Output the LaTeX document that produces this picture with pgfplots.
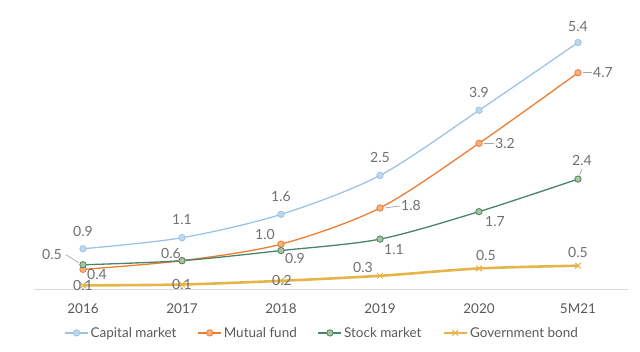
\documentclass[border=0pt]{standalone}
\usepackage{pgfplots}
\usepackage{pgfplotstable}
\pgfplotsset{compat=1.18}
\usepackage{fontspec}
\setmainfont{Lato}
\definecolor{capc}{HTML}{9DC3E6}
\definecolor{capf}{HTML}{BDD7EE}
\definecolor{mfc}{HTML}{ED7D31}
\definecolor{mff}{HTML}{F4B183}
\definecolor{smc}{HTML}{4A8469}
\definecolor{smf}{HTML}{A9C4A2}
\definecolor{gbc}{HTML}{E4B548}
\definecolor{tickc}{HTML}{595959}
\definecolor{labc}{HTML}{707070}
\definecolor{axc}{HTML}{D9D9D9}

\pgfplotstableread{
x y dx dy lbl
0 0.90 0 17 0.9
1 1.14 0 18 1.1
2 1.65 0 18 1.6
3 2.50 0 18 2.5
4 3.92 0 18 3.9
5 5.40 0 16 5.4
}\capital
\pgfplotstableread{
x y dx dy lbl
0 0.45 14 -5 0.4
1 0.64 -11 7 {}
2 1.00 -16 10 1.0
3 1.79 31 2 1.8
4 3.20 26 0 3.2
5 4.74 25 0 4.7
}\mutual
\pgfplotstableread{
x y dx dy lbl
0 0.55 -31 10 0.5
1 0.64 -11 7 0.6
2 0.86 14 -8 0.9
3 1.11 14 -10 1.1
4 1.71 16 -10 1.7
5 2.42 4 19 2.4
}\stock
\pgfplotstableread{
x y dx dy lbl
0 0.10 0 0 0.1
1 0.12 0 0 0.1
2 0.20 1 0 0.2
3 0.31 -17 8 0.3
4 0.47 7 13 0.5
5 0.53 0 13 0.5
}\bond

\begin{document}
\begin{tikzpicture}
\path[use as bounding box] (0,0) rectangle (640pt,352pt);
\begin{axis}[
  at={(33.5pt,62pt)}, anchor=south west,
  scale only axis, width=594pt, height=275pt,
  xmin=-0.5, xmax=5.5, ymin=0, ymax=6,
  clip=false,
  axis x line=bottom, axis y line=none,
  x axis line style={draw=axc, line width=1pt, -},
  xtick={0,1,2,3,4,5},
  xticklabels={2016,2017,2018,2019,2020,5M21},
  major tick length=0pt,
  xticklabel style={anchor=center, yshift=-19pt, text=tickc, font=\fontsize{13.5}{16}\selectfont},
  ytick=\empty,
  ylabel={MILLIONS},
  ylabel style={at={(axis description cs:-0.0143,0.473)}, anchor=center, text=tickc, font=\fontsize{12}{14}\selectfont},
  /pgf/number format/assume math mode=true,
  point meta=explicit symbolic,
  nodes near coords,
  visualization depends on={\thisrow{dx} \as \dx},
  visualization depends on={\thisrow{dy} \as \dy},
  every node near coord/.append style={anchor=center, xshift=\dx pt, yshift=\dy pt, text=labc, font=\fontsize{14}{16}\selectfont},
  legend style={draw=none, fill=none, at={(0.486,-0.156)}, anchor=center, legend columns=4,
     font=\fontsize{13.5}{16}\selectfont, text=tickc,
     /tikz/every even column/.append style={column sep=19pt}},
  legend image code/.code={
     \draw[#1, mark=none] (0pt,0pt) -- (23pt,0pt);
     \draw[#1, only marks] plot coordinates {(11.5pt,0pt)};
  },
]
\addplot[capc, line width=1.3pt, smooth, mark=*, mark size=3.2pt,
  mark options={fill=capf, draw=capc, line width=0.8pt}] table[x=x, y=y, meta=lbl] {\capital};
\addlegendentry{Capital market}
\addplot[mfc, line width=1.3pt, smooth, mark=*, mark size=3.2pt,
  mark options={fill=mff, draw=mfc, line width=0.8pt}] table[x=x, y=y, meta=lbl] {\mutual};
\addlegendentry{Mutual fund}
\addplot[smc, line width=1.3pt, smooth, mark=*, mark size=3.2pt,
  mark options={fill=smf, draw=smc, line width=0.8pt}] table[x=x, y=y, meta=lbl] {\stock};
\addlegendentry{Stock market}
\addplot[gbc, line width=2.6pt, smooth, mark=x, mark size=4pt,
  mark options={draw=gbc, line width=1pt}] table[x=x, y=y, meta=lbl] {\bond};
\addlegendentry{Government bond}
% leader lines
\draw[gray!70, line width=0.7pt] ([xshift=-17pt, yshift=10pt]axis cs:0,0.55) -- ([xshift=-4pt, yshift=2pt]axis cs:0,0.55);
\draw[gray!70, line width=0.7pt] ([xshift=5pt]axis cs:3,1.79) -- ([xshift=20pt, yshift=2pt]axis cs:3,1.79);
\draw[gray!70, line width=0.7pt] ([xshift=5pt]axis cs:4,3.20) -- ([xshift=15pt]axis cs:4,3.20);
\draw[gray!70, line width=0.7pt] ([xshift=5pt]axis cs:5,4.74) -- ([xshift=14pt]axis cs:5,4.74);
\draw[gray!70, line width=0.7pt] ([xshift=1.5pt, yshift=4pt]axis cs:5,2.42) -- ([xshift=4pt, yshift=10pt]axis cs:5,2.42);
\end{axis}
\end{tikzpicture}
\end{document}
